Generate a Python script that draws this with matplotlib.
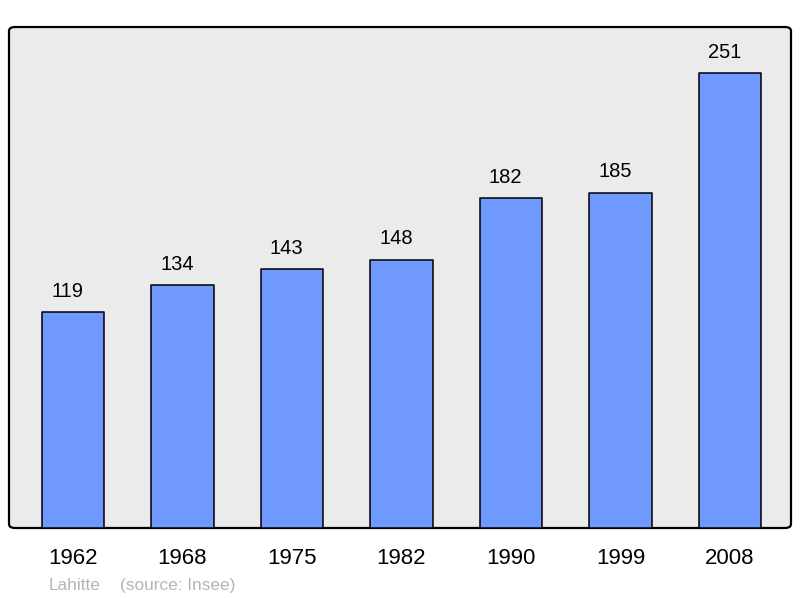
import matplotlib
matplotlib.use("Agg")
import matplotlib.pyplot as plt
from matplotlib.patches import FancyBboxPatch

years = ["1962", "1968", "1975", "1982", "1990", "1999", "2008"]
population = [119, 134, 143, 148, 182, 185, 251]

plt.rcParams["font.family"] = ["Liberation Sans", "DejaVu Sans"]

fig = plt.figure(figsize=(8, 5.98), dpi=100)
W, H = 800, 598
ax = fig.add_axes([9 / W, (H - 528) / H, 782 / W, 501 / H])
ax.set_facecolor("none")
for s in ax.spines.values():
    s.set_visible(False)

# rounded frame with grey fill
frame = FancyBboxPatch((0, 0), 1, 1, boxstyle="round,pad=0,rounding_size=0.008",
                       transform=ax.transAxes, facecolor="#ebebeb",
                       edgecolor="black", linewidth=1.6, zorder=0, clip_on=False)
ax.add_patch(frame)

x = list(range(len(years)))
bars = ax.bar(x, population, width=0.57, color="#7099ff", edgecolor="black",
              linewidth=1.1, zorder=2)
for b in bars:
    b.set_joinstyle("round")

# value labels sit a little left of the bar centre in the original
for xi, v in zip(x, population):
    ax.annotate(str(v), (xi, v), xytext=(-3.8, 11), textcoords="offset points",
                ha="center", va="baseline", fontsize=14.5, color="black")

ax.set_xlim(-0.584, 6.557)
ax.set_ylim(0, 276.4)
ax.set_xticks(x)
ax.set_xticklabels(years, fontsize=16)
ax.tick_params(axis="x", length=0, pad=14.5)
ax.set_yticks([])

fig.text(49 / W, 1 - 590 / H, "Lahitte", fontsize=12.4, color="#b5b5b5", va="baseline")
fig.text(120 / W, 1 - 590 / H, "(source: Insee)", fontsize=12.4, color="#b5b5b5", va="baseline")

fig.savefig("out.png", dpi=100)
